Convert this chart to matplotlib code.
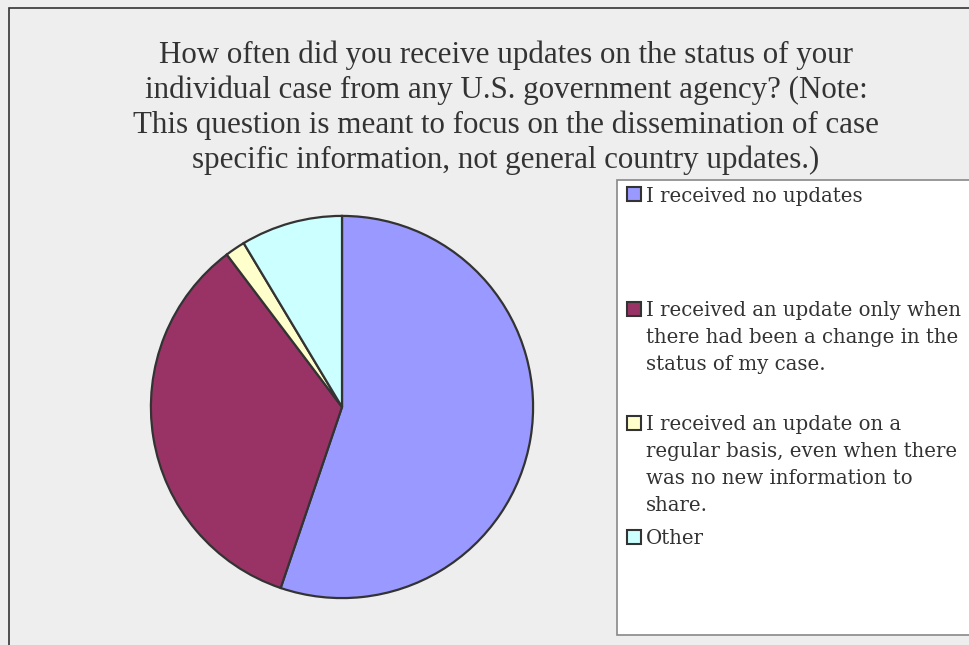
import matplotlib
matplotlib.use("Agg")
import matplotlib.pyplot as plt
from matplotlib.patches import Rectangle

title = ("How often did you receive updates on the status of your\n"
         "individual case from any U.S. government agency? (Note:\n"
         "This question is meant to focus on the dissemination of case\n"
         "specific information, not general country updates.)")
labels = ["I received no updates",
          "I received an update only when\nthere had been a change in the\nstatus of my case.",
          "I received an update on a\nregular basis, even when there\nwas no new information to\nshare.",
          "Other"]
shares = [55.2, 34.5, 1.7, 8.6]
colors = ["#9999FF", "#993366", "#FFFFCC", "#CCFFFF"]

W, H = 969, 645
fig = plt.figure(figsize=(W / 100, H / 100), dpi=100, facecolor="#EEEEEE")

# outer chart border (runs off the right/bottom edge)
fig.patches.append(Rectangle((8.5 / W, -0.1), 1.2, 1 - 8.5 / H + 0.1,
                             transform=fig.transFigure, fill=False,
                             edgecolor="#333333", linewidth=1.2))

fig.text(506 / W, 1 - 41 / H, title, ha="center", va="top",
         fontsize=22.3, family="Liberation Serif", color="#333333",
         linespacing=1.24)

# pie
cx, cy, r = 342, 407, 193
ax = fig.add_axes([(cx - r) / W, (H - cy - r) / H, 2 * r / W, 2 * r / H])
ax.pie(shares, colors=colors, startangle=90, counterclock=False,
       wedgeprops=dict(edgecolor="#333333", linewidth=1.6))
ax.set_xlim(-1.01, 1.01)
ax.set_ylim(-1.01, 1.01)
ax.axis("off")

# legend box
fig.patches.append(Rectangle((617 / W, 1 - 635 / H), 0.5, (635 - 179.5) / H,
                             transform=fig.transFigure, facecolor="white",
                             edgecolor="#888888", linewidth=1.2))
label_base = [202, 316, 430, 544]
for lab, col, base in zip(labels, colors, label_base):
    fig.patches.append(Rectangle((627 / W, 1 - (base - 0.5) / H), 14 / W, 14 / H,
                                 transform=fig.transFigure, facecolor=col,
                                 edgecolor="#333333", linewidth=1.5))
    fig.text(646 / W, 1 - (base - 15) / H, lab, ha="left", va="top",
             fontsize=14.2, family="DejaVu Serif", color="#333333",
             linespacing=1.54)

fig.savefig("out.png", dpi=100, facecolor=fig.get_facecolor())
